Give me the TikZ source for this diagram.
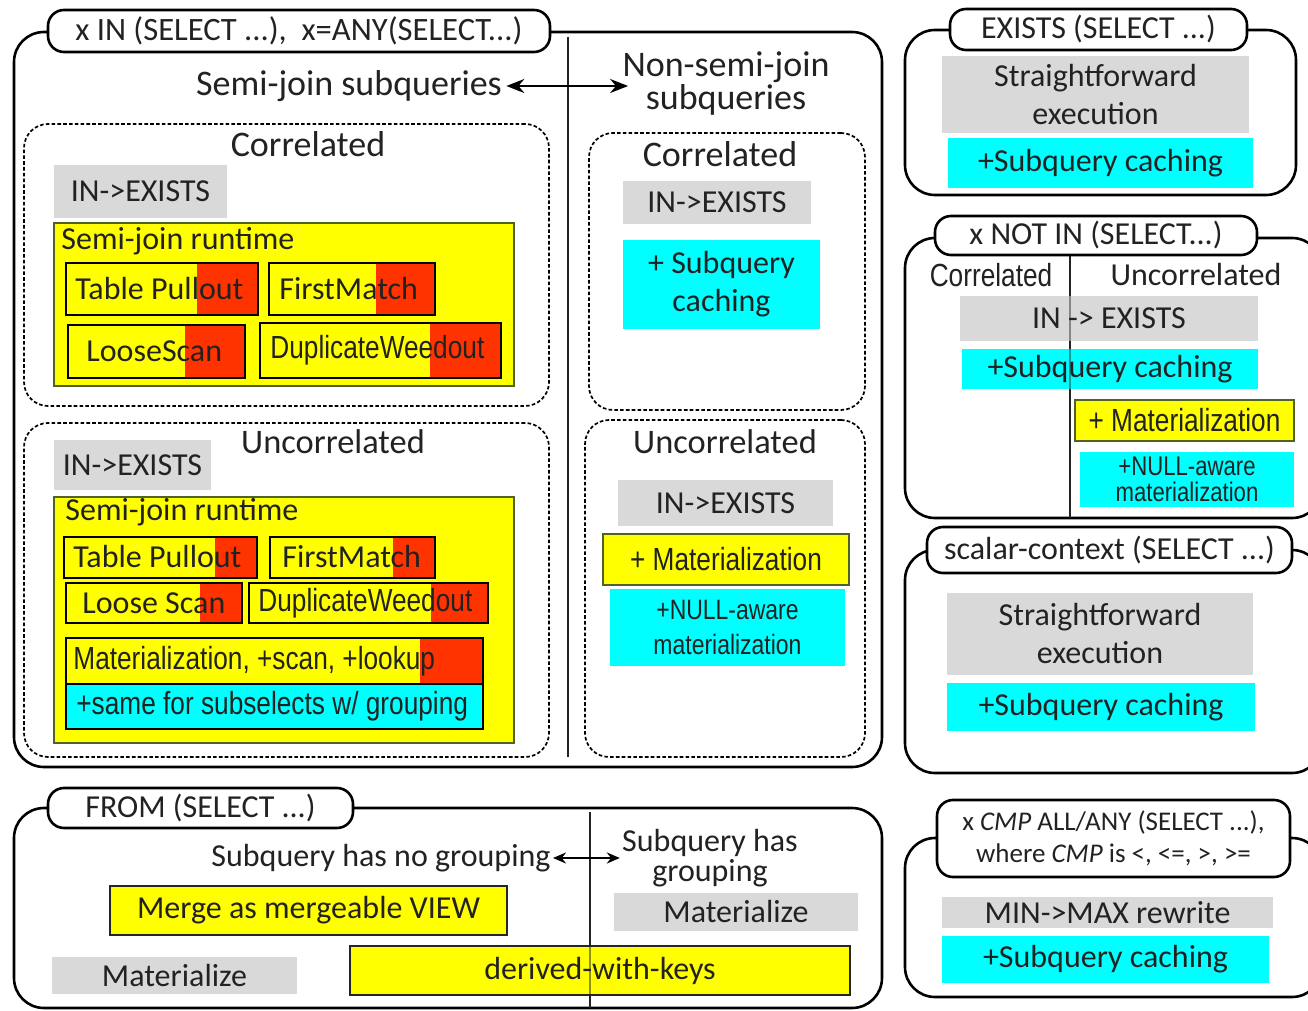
\documentclass[tikz,border=0pt]{standalone}
\usepackage{fontspec}
\setmainfont{Carlito}
\newfontfamily\narrowsans[FakeStretch=0.82]{Liberation Sans}
\usetikzlibrary{fit,arrows.meta}
\definecolor{ink}{HTML}{222222}
\definecolor{boxgray}{HTML}{D9D9D9}
\definecolor{boxcyan}{HTML}{00FFFF}
\definecolor{boxyellow}{HTML}{FFFF00}
\definecolor{boxred}{HTML}{FF3300}
\definecolor{rimgreen}{HTML}{4F6228}
\tikzset{
  f36/.style={font=\fontsize{18}{16.5}\selectfont},
  f34/.style={font=\fontsize{17.2}{18}\selectfont},
  f32/.style={font=\fontsize{16}{19}\selectfont},
  f33/.style={font=\fontsize{16.3}{19}\selectfont},
  f32t/.style={font=\fontsize{16}{15}\selectfont},
  f27/.style={font=\fontsize{13.5}{16}\selectfont},
  n32/.style={font=\narrowsans\fontsize{16}{19}\selectfont},
  n28/.style={font=\narrowsans\fontsize{14}{17.5}\selectfont},
  n27/.style={font=\narrowsans\fontsize{13.5}{13}\selectfont},
  panel/.style={draw=black, line width=1.3pt, rounded corners=15pt, inner sep=0pt},
  qtag/.style={draw=black, fill=white, line width=1.3pt, rounded corners=8pt, inner sep=0pt},
  dashgroup/.style={draw=black, line width=0.85pt, dash pattern=on 1.8pt off 1.1pt, rounded corners=12pt, inner sep=0pt},
  gbox/.style={fill=boxgray, inner sep=0pt},
  cbox/.style={fill=boxcyan, inner sep=0pt},
  ybox/.style={fill=boxyellow, draw=rimgreen, line width=0.6pt, inner sep=0pt},
  strat/.style={fill=boxyellow, draw=black, line width=1.1pt, inner sep=0pt},
  redtail/.style={path picture={\fill[boxred] ([xshift=-#1*0.5pt]path picture bounding box.north east) rectangle (path picture bounding box.south east);}},
  divider/.style={draw=ink, line width=1.1pt},
  twoway/.style={{Stealth[length=9pt,width=7pt]}-{Stealth[length=9pt,width=7pt]}, line width=1.1pt, draw=black},
  twowaysmall/.style={{Stealth[length=6.5pt,width=5.5pt]}-{Stealth[length=6.5pt,width=5.5pt]}, line width=1.1pt, draw=black},
}
\begin{document}
\begin{tikzpicture}[x=0.5pt, y=-0.5pt, every node/.style={text=ink, inner sep=1pt}]
\useasboundingbox (0,0) rectangle (1308,1011);
\fill[white] (0,0) rectangle (1308,1011);
\clip (0,0) rectangle (1308,1011);

% ===== x IN (SELECT ...) / x=ANY(SELECT ...) =====
\node[panel, fit={(14,32) (882,767)}] (inpanel) {};
\draw[divider] (568,37) -- (568,757);
\node[qtag, fit={(48,10) (550,52)}] (intag) {};
\node[f33] (intagt) at (intag) {x IN (SELECT ...),\ \ x=ANY(SELECT...)};
\node[f36] (sj) at (349,86) {Semi-join subqueries};
\node[f36, align=center] (nsj) at (726,84) {Non-semi-join\\subqueries};
\draw[twoway, shorten <=1pt, shorten >=-4pt] (sj.east) -- (sj.east -| nsj.west);

% semi-join, correlated
\node[dashgroup, fit={(24,124) (549,406)}] (lcor) {};
\node[f36] (lcortitle) at (308,144) {Correlated};
\node[gbox, fit={(54,165) (227,218)}] (lcorie) {};
\node[f32] (lcoriet) at (lcorie) {IN->EXISTS};
\node[ybox, fit={(54,223) (514,386)}] (lcorrt) {};
\node[f32, anchor=west] (lcorrtl) at (59,241) {Semi-join runtime};
\node[strat, redtail=61, fit={(66,263) (258,315)}] (lcorpull) {};
\node[f32, anchor=west] (lcorpullt) at (73,289) {Table Pullout};
\node[strat, redtail=59, fit={(269,263) (435,315)}] (lcorfm) {};
\node[f32, anchor=west] (lcorfmt) at (277,289) {FirstMatch};
\node[strat, redtail=60, fit={(68,325) (245,378)}] (lcorls) {};
\node[f32, anchor=west] (lcorlst) at (84,351) {LooseScan};
\node[strat, redtail=71, fit={(260,323) (501,378)}] (lcordw) {};
\node[n32, anchor=west] (lcordwt) at (268,350) {DuplicateWeedout};

% semi-join, uncorrelated
\node[dashgroup, fit={(24,423) (549,757)}] (lunc) {};
\node[f34] (lunctitle) at (333,442) {Uncorrelated};
\node[gbox, fit={(54,440) (211,490)}] (luncie) {};
\node[f32] (lunciet) at (luncie) {IN->EXISTS};
\node[ybox, fit={(54,497) (514,743)}] (luncrt) {};
\node[f32, anchor=west] (luncrtl) at (63,512) {Semi-join runtime};
\node[strat, redtail=42, fit={(64,537) (257,578)}] (luncpull) {};
\node[f32, anchor=west] (luncpullt) at (71,557) {Table Pullout};
\node[strat, redtail=42, fit={(270,537) (435,578)}] (luncfm) {};
\node[f32, anchor=west] (luncfmt) at (280,557) {FirstMatch};
\node[strat, redtail=42, fit={(66,583) (242,623)}] (luncls) {};
\node[f32, anchor=west] (unclst) at (80,603) {Loose Scan};
\node[strat, redtail=57, fit={(249,583) (488,623)}] (luncdw) {};
\node[n32, anchor=west] (luncdwt) at (256,603) {DuplicateWeedout};
\node[strat, redtail=63, fit={(66,638) (483,684)}] (luncmat) {};
\node[n32, anchor=west] (luncmatt) at (71,661) {Materialization, +scan, +lookup};
\node[strat, fill=boxcyan, fit={(66,684) (483,729)}] (luncgrp) {};
\node[n32, anchor=west] (luncgrpt) at (74,706) {+same for subselects w/ grouping};

% non-semi-join, correlated
\node[dashgroup, fit={(589,133) (865,410)}] (rcor) {};
\node[f36] (rcortitle) at (720,154) {Correlated};
\node[gbox, fit={(623,181) (811,224)}] (rcorie) {};
\node[f32] (rcoriet) at (rcorie) {IN->EXISTS};
\node[cbox, fit={(623,240) (820,329)}] (rcorcache) {};
\node[f32, align=center] (rcorcachet) at (rcorcache) {+ Subquery\\caching};

% non-semi-join, uncorrelated
\node[dashgroup, fit={(585,420) (865,757)}] (runc) {};
\node[f34] (runctitle) at (725,442) {Uncorrelated};
\node[gbox, fit={(618,480) (833,526)}] (runcie) {};
\node[f32] (runciet) at (runcie) {IN->EXISTS};
\node[ybox, fit={(603,534) (849,585)}] (runcmat) {};
\node[n32] (runcmatt) at (runcmat) {+ Materialization};
\node[cbox, fit={(610,589) (845,666)}] (runcnull) {};
\node[n28, align=center] (runcnullt) at (runcnull) {+NULL-aware\\materialization};

% ===== EXISTS (SELECT ...) =====
\node[panel, fit={(905,30) (1296,195)}] (expanel) {};
\node[qtag, fit={(950,9) (1247,50)}] (extag) {};
\node[f32] (extagt) at (extag) {EXISTS (SELECT ...)};
\node[gbox, fit={(942,56) (1249,133)}] (exstraight) {};
\node[f32, align=center] (exstraightt) at (exstraight) {Straightforward\\execution};
\node[cbox, fit={(948,138) (1253,188)}] (excache) {};
\node[f32] (excachet) at (excache) {+Subquery caching};

% ===== x NOT IN (SELECT ...) =====
\node[panel, fit={(905,238) (1322,518)}] (nipanel) {};
\draw[divider] (1070,255) -- (1070,518);
\node[qtag, fit={(935,216) (1257,255)}] (nitag) {};
\node[f32] (nitagt) at (nitag) {x NOT IN (SELECT...)};
\node[n32] (nicor) at (991,275) {Correlated};
\node[f32] (niunc) at (1196,275) {Uncorrelated};
\node[gbox, fit={(960,296) (1258,341)}] (niie) {};
\node[f32] (niiet) at (niie) {IN -> EXISTS};
\node[cbox, fit={(962,349) (1258,389)}] (nicache) {};
\node[f32] (nicachet) at (nicache) {+Subquery caching};
\node[ybox, fit={(1075,400) (1294,441)}] (nimat) {};
\node[n32] (nimatt) at (nimat) {+ Materialization};
\node[cbox, fit={(1080,452) (1294,507)}] (ninull) {};
\node[n27, align=center] (ninullt) at (ninull) {+NULL-aware\\materialization};
\draw[divider, opacity=0.45] (1070,296) -- (1070,389);

% ===== scalar-context (SELECT ...) =====
\node[panel, fit={(905,550) (1322,773)}] (scpanel) {};
\node[qtag, fit={(927,527) (1292,573)}] (sctag) {};
\node[f32] (sctagt) at (sctag) {scalar-context (SELECT ...)};
\node[gbox, fit={(947,593) (1253,675)}] (scstraight) {};
\node[f32, align=center] (scstraightt) at (scstraight) {Straightforward\\execution};
\node[cbox, fit={(947,683) (1255,731)}] (sccache) {};
\node[f32] (sccachet) at (sccache) {+Subquery caching};

% ===== x CMP ALL/ANY (SELECT ...) =====
\node[panel, fit={(905,838) (1322,997)}] (cmppanel) {};
\node[qtag, fit={(937,800) (1290,877)}] (cmptag) {};
\node[f27, align=center] (cmptagt) at (cmptag) {x \textit{CMP} ALL/ANY (SELECT ...),\\where \textit{CMP} is <, <=, >, >=};
\node[gbox, fit={(942,897) (1273,928)}] (cmpminmax) {};
\node[f32] (cmpminmaxt) at (cmpminmax) {MIN->MAX rewrite};
\node[cbox, fit={(942,936) (1269,983)}] (cmpcache) {};
\node[f32] (cmpcachet) at (cmpcache) {+Subquery caching};

% ===== FROM (SELECT ...) =====
\node[panel, fit={(14,808) (882,1008)}] (frpanel) {};
\draw[divider] (590,812) -- (590,1008);
\node[qtag, fit={(48,788) (353,828)}] (frtag) {};
\node[f32] (frtagt) at (frtag) {FROM (SELECT ...)};
\node[f32, anchor=east] (frnogrp) at (553,858) {Subquery has no grouping};
\node[f32t, align=center] (frgrp) at (710,858) {Subquery has\\grouping};
\draw[twowaysmall] (frnogrp.east) -- (frnogrp.east -| frgrp.west);
\node[ybox, draw=black!85, fit={(110,886) (507,935)}] (frmerge) {};
\node[f32] (frmerget) at (frmerge) {Merge as mergeable VIEW};
\node[gbox, fit={(614,893) (858,931)}] (frmatr) {};
\node[f32] (frmatrt) at (frmatr) {Materialize};
\node[gbox, fit={(52,957) (297,994)}] (frmatl) {};
\node[f32] (frmatlt) at (frmatl) {Materialize};
\node[ybox, draw=black!85, fit={(350,946) (850,995)}] (frdwk) {};
\draw[divider, opacity=0.5] (590,946) -- (590,995);
\node[f32] (frdwkt) at (frdwk) {derived-with-keys};
\end{tikzpicture}
\end{document}
